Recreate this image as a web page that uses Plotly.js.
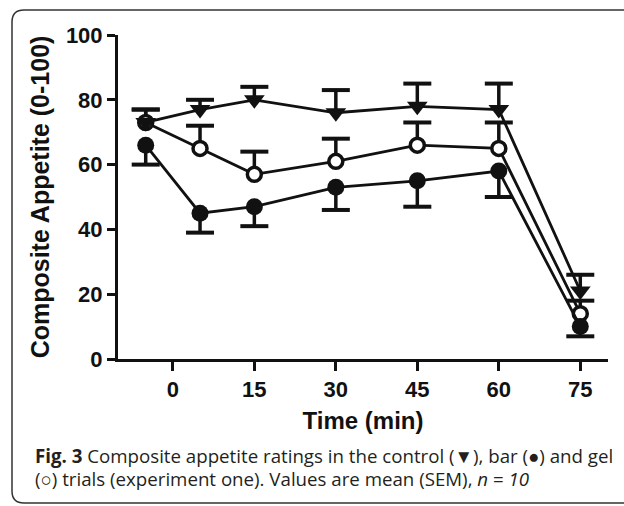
<!DOCTYPE html>
<html>
<head>
<meta charset="utf-8">
<script src="https://cdn.plot.ly/plotly-3.0.1.min.js"></script>
<style>
  html, body { margin: 0; padding: 0; background: #fff; }
  #chart { width: 624px; height: 506px; }
</style>
</head>
<body>
<div id="chart"></div>
<script>
// ---- data ----
const timeMin = [-5, 5, 15, 30, 45, 60, 75];
const xTickVals = [0, 15, 30, 45, 60, 75];
const yTickVals = [0, 20, 40, 60, 80, 100];

const controlMean = [73, 77, 80, 76, 78, 77, 21];
const controlSem  = [4, 3, 4, 7, 7, 8, 5];

const barMean = [66, 45, 47, 53, 55, 58, 10];
const barSem  = [6, 6, 6, 7, 8, 8, 3];

const gelMean = [73, 65, 57, 61, 66, 65, 14];
const gelSem  = [4, 7, 7, 7, 7, 8, 4];

const xTitle = 'Time (min)';
const yTitle = 'Composite Appetite (0-100)';
const captionLine1 = '<b>Fig. 3</b> Composite appetite ratings in the control (\u25BC), bar (\u25CF) and gel';
const captionLine2 = '(\u25CB) trials (experiment one). Values are mean (SEM), <i>n</i> = <i>10</i>';

// ---- layout geometry ----
const W = 624, H = 506;
const M = { l: 118, r: 16, t: 35, b: 147 };
const plotW = W - M.l - M.r, plotH = H - M.t - M.b;
const px = x => (x - M.l) / plotW;
const py = y => (H - M.b - y) / plotH;

const axisFont = { family: 'Liberation Sans, Arial, sans-serif', size: 22, color: '#111', weight: 'bold' };
const ink = '#111';

// error bars: stem + cap drawn from data (up = +1, down = -1)
function errorTraces(mean, sem, dir) {
  const sx = [], sy = [], cx = [], cy = [];
  mean.forEach((m, i) => {
    const tip = m + dir * sem[i];
    sx.push(timeMin[i], timeMin[i], null);
    sy.push(m, tip, null);
    cx.push(timeMin[i]);
    cy.push(tip);
  });
  return [
    { x: sx, y: sy, mode: 'lines', line: { color: ink, width: 3.5 },
      hoverinfo: 'skip', showlegend: false, cliponaxis: false },
    { x: cx, y: cy, mode: 'markers',
      marker: { symbol: 'line-ew-open', size: 20, color: ink, line: { color: ink, width: 4 } },
      hoverinfo: 'skip', showlegend: false, cliponaxis: false }
  ];
}

const traces = [
  ...errorTraces(gelMean, gelSem, 1),
  ...errorTraces(barMean, barSem, -1),
  ...errorTraces(controlMean, controlSem, 1),
  { name: 'gel', x: timeMin, y: gelMean, mode: 'lines+markers', cliponaxis: false,
    line: { color: ink, width: 2.8 },
    marker: { symbol: 'circle', size: 14, color: '#fff', line: { color: ink, width: 3.5 } } },
  { name: 'bar', x: timeMin, y: barMean, mode: 'lines+markers', cliponaxis: false,
    line: { color: ink, width: 2.8 },
    marker: { symbol: 'circle', size: 17, color: ink } },
  { name: 'control', x: timeMin, y: controlMean, mode: 'lines+markers', cliponaxis: false,
    line: { color: ink, width: 2.8 },
    marker: { symbol: 'triangle-down', size: 18, color: ink } }
];

const r = 12; // frame corner radius in px
const fx0 = 12, fy0 = 10, fx1 = 640, fy1 = 503;
const framePath =
  `M ${px(fx1)},${py(fy0)} H ${px(fx0 + r)} Q ${px(fx0)},${py(fy0)} ${px(fx0)},${py(fy0 + r)} ` +
  `V ${py(fy1 - r)} Q ${px(fx0)},${py(fy1)} ${px(fx0 + r)},${py(fy1)} H ${px(fx1)}`;

const captionFont = { family: 'Open Sans, Noto Sans, sans-serif', size: 18.7, color: '#231f20' };

const layout = {
  width: W, height: H,
  margin: M,
  paper_bgcolor: '#fff', plot_bgcolor: '#fff',
  showlegend: false,
  xaxis: {
    range: [-10.1, 80.1],
    tickvals: xTickVals, ticktext: xTickVals.map(String),
    ticks: 'outside', ticklen: 9, tickwidth: 3, tickcolor: ink,
    showline: true, linewidth: 3, linecolor: ink,
    showgrid: false, zeroline: false,
    tickfont: axisFont,
    title: { text: '<b>' + xTitle + '</b>', font: { family: axisFont.family, size: 24, color: ink }, standoff: 11 },
    automargin: false
  },
  yaxis: {
    range: [0, 100],
    tickvals: yTickVals, ticktext: yTickVals.map(String),
    ticks: 'outside', ticklen: 8, tickwidth: 3, tickcolor: ink,
    showline: true, linewidth: 3, linecolor: ink,
    showgrid: false, zeroline: false,
    tickfont: axisFont,
    title: { text: '<b>' + yTitle + '</b>', font: { family: axisFont.family, size: 25, color: ink }, standoff: 10 },
    automargin: false
  },
  shapes: [
    { type: 'path', xref: 'paper', yref: 'paper', path: framePath,
      line: { color: '#333', width: 1.5 }, fillcolor: 'rgba(0,0,0,0)', layer: 'below' }
  ],
  annotations: [
    { xref: 'paper', yref: 'paper', x: px(33), y: py(455), xanchor: 'left', yanchor: 'middle',
      showarrow: false, text: captionLine1, align: 'left', font: captionFont },
    { xref: 'paper', yref: 'paper', x: px(33), y: py(479), xanchor: 'left', yanchor: 'middle',
      showarrow: false, text: captionLine2, align: 'left', font: captionFont }
  ]
};

Plotly.newPlot('chart', traces, layout, { staticPlot: true, displayModeBar: false });
</script>
</body>
</html>
